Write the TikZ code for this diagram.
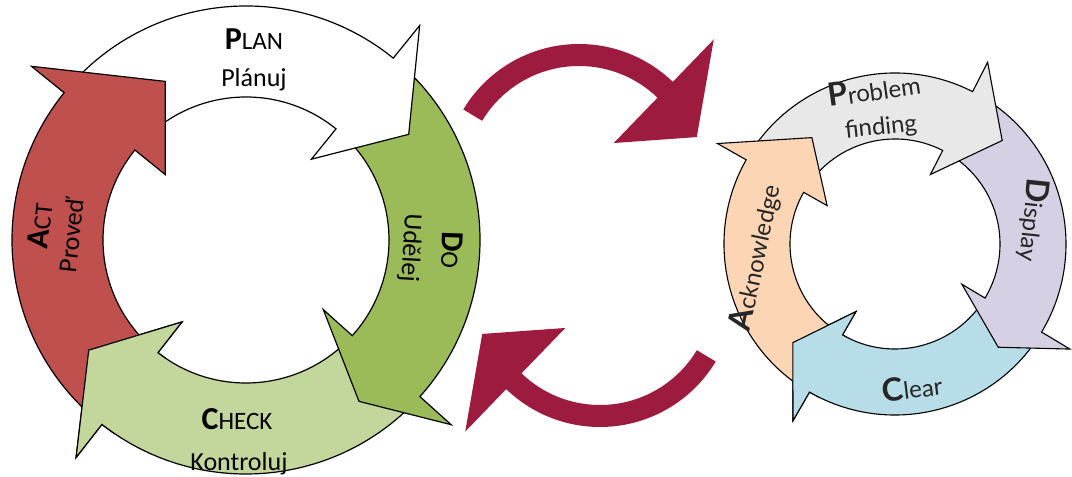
\documentclass[tikz,border=0pt]{standalone}
\usepackage{fontspec}
\setmainfont{Carlito}
\newfontfamily\gillfont{Lato}
\usepackage{xcolor}

\definecolor{actred}{RGB}{192,80,77}
\definecolor{dogreen}{RGB}{155,187,89}
\definecolor{checkgreen}{RGB}{195,214,155}
\definecolor{pfgray}{RGB}{232,232,232}
\definecolor{displav}{RGB}{214,208,228}
\definecolor{clearblue}{RGB}{183,221,232}
\definecolor{ackpeach}{RGB}{252,213,181}
\definecolor{loopred}{RGB}{158,27,64}
\definecolor{labgray}{RGB}{38,38,38}

\newcommand{\leadcap}[1]{{\fontsize{32}{32}\selectfont\bfseries #1}}
\newcommand{\leadcapr}[1]{{\fontsize{32}{32}\selectfont\bfseries #1}}

\tikzset{
  band/.style={draw=black, line width=1.2pt, line join=miter},
  smallband/.style={draw=black, line width=1.1pt, line join=miter},
  lefttitle/.style={inner sep=0pt, font=\fontsize{25}{25}\selectfont},
  leftsub/.style={inner sep=0pt, font=\fontsize{26}{26}\selectfont},
  righttext/.style={inner sep=0pt, text=labgray, font=\gillfont\fontsize{24}{24}\selectfont}
}

\begin{document}
\begin{tikzpicture}[x=1pt,y=1pt]
\useasboundingbox (0,0) rectangle (1072,477);
\fill[white] (0,0) rectangle (1072,477);

%%%%%%%%%%%%%%%%%%%%%%%%%%%%%%%%%%%%%%%%%%%%%%%%%%%%%%%%%%%%%%%% PDCA
\begin{scope}[shift={(246,237)}]
\filldraw[band, fill=checkgreen] (-42:234pt) arc[start angle=-42, end angle=-128, radius=234pt] -- (-128:276pt) -- (-145:192pt) -- (-128:104pt) -- (-128:143pt) arc[start angle=-128, end angle=-42, radius=143pt] -- cycle; %check
\filldraw[band, fill=dogreen] (51:234pt) arc[start angle=51, end angle=-42, radius=234pt] -- (-42:276pt) -- (-55:197pt) -- (-42:104pt) -- (-42:143pt) arc[start angle=-42, end angle=51, radius=143pt] -- cycle; %do
\filldraw[band, fill=white] (141:234pt) arc[start angle=141, end angle=51, radius=234pt] -- (51:276pt) -- (33:194pt) -- (51:104pt) -- (51:143pt) arc[start angle=51, end angle=141, radius=143pt] -- cycle; %plan
\filldraw[band, fill=actred] (232:234pt) arc[start angle=232, end angle=141, radius=234pt] -- (141:276pt) -- (117:178pt) -- (141:104pt) -- (141:143pt) arc[start angle=141, end angle=232, radius=143pt] -- cycle; %act
% check head again, on top of the act tail
\fill[checkgreen] (-124:234pt) arc[start angle=-124, end angle=-128, radius=234pt] -- (-128:276pt) -- (-145:192pt) -- (-128:104pt) -- (-128:143pt) arc[start angle=-128, end angle=-124, radius=143pt] -- cycle;
\draw[band] (-124:234pt) arc[start angle=-124, end angle=-128, radius=234pt] -- (-128:276pt) -- (-145:192pt) -- (-128:104pt) -- (-128:143pt) arc[start angle=-128, end angle=-124, radius=143pt];
\end{scope}

\node[lefttitle, anchor=base] (plan) at (254,427) {\leadcap{P}LAN};
\node[leftsub, anchor=base] (plansub) at (254,390) {Plánuj};
\node[lefttitle, anchor=base] (check) at (237,47) {\leadcap{C}HECK};
\node[leftsub, anchor=base] (checksub) at (239,6) {Kontroluj};
\node[lefttitle, rotate=84] (act) at (40,251) {\leadcap{A}CT};
\node[leftsub, rotate=84] (actsub) at (71,242) {Proveď};
\node[lefttitle, rotate=-92] (do) at (452,227) {\leadcap{D}O};
\node[leftsub, rotate=-93] (dosub) at (410,229) {Udělej};

%%%%%%%%%%%%%%%%%%%%%%%%%%%%%%%%%%%%%%%%%%%%%%%%%%%%%%%%%%%%%%%% loop arrows
\begin{scope}[shift={(579,298)}]
\fill[loopred] (149:135pt) arc[start angle=149, end angle=46, radius=135pt] -- (46:194pt) -- (19.6:125pt) -- (46:50pt) -- (46:113pt) arc[start angle=46, end angle=149, radius=113pt] -- cycle; %top
\end{scope}
\begin{scope}[shift={(600,185)}]
\fill[loopred] (329:135pt) arc[start angle=329, end angle=226, radius=135pt] -- (226:194pt) -- (199.6:125pt) -- (226:50pt) -- (226:113pt) arc[start angle=226, end angle=329, radius=113pt] -- cycle; %bottom
\end{scope}

%%%%%%%%%%%%%%%%%%%%%%%%%%%%%%%%%%%%%%%%%%%%%%%%%%%%%%%%%%%%%%%% PDCA small
\begin{scope}[shift={(895,233)}]
\filldraw[smallband, fill=clearblue] (-31:171pt) arc[start angle=-31, end angle=-120, radius=171pt] -- (-120:204pt) -- (-136:142pt) -- (-120:78pt) -- (-120:105pt) arc[start angle=-120, end angle=-31, radius=105pt] -- cycle; %clear
\filldraw[smallband, fill=displav] (63:171pt) arc[start angle=63, end angle=-31, radius=171pt] -- (-31:204pt) -- (-45:146pt) -- (-31:78pt) -- (-31:105pt) arc[start angle=-31, end angle=63, radius=105pt] -- cycle; %display
\filldraw[smallband, fill=pfgray] (150.5:171pt) arc[start angle=150.5, end angle=63, radius=171pt] -- (63:204pt) -- (44:149pt) -- (63:78pt) -- (63:105pt) arc[start angle=63, end angle=150.5, radius=105pt] -- cycle; %problem
\filldraw[smallband, fill=ackpeach] (240:171pt) arc[start angle=240, end angle=150.5, radius=171pt] -- (150.5:204pt) -- (128:135pt) -- (150.5:78pt) -- (150.5:105pt) arc[start angle=150.5, end angle=240, radius=105pt] -- cycle; %acknowledge
% clear head again
\fill[clearblue] (-116:171pt) arc[start angle=-116, end angle=-120, radius=171pt] -- (-120:204pt) -- (-136:142pt) -- (-120:78pt) -- (-120:105pt) arc[start angle=-120, end angle=-116, radius=105pt] -- cycle;
\draw[smallband] (-116:171pt) arc[start angle=-116, end angle=-120, radius=171pt] -- (-120:204pt) -- (-136:142pt) -- (-120:78pt) -- (-120:105pt) arc[start angle=-120, end angle=-116, radius=105pt];
\end{scope}

\node[righttext, rotate=8] (pf) at (874,388) {\leadcapr{P}roblem};
\node[righttext, rotate=6] (pfsub) at (881,349) {finding};
\node[righttext, rotate=-96] (disp) at (1033,257) {\leadcapr{D}isplay};
\node[righttext, rotate=7] (clear) at (912,90) {\leadcapr{C}lear};
\node[righttext, rotate=78] (ack) at (756,219) {\leadcapr{A}cknowledge};
\end{tikzpicture}
\end{document}
